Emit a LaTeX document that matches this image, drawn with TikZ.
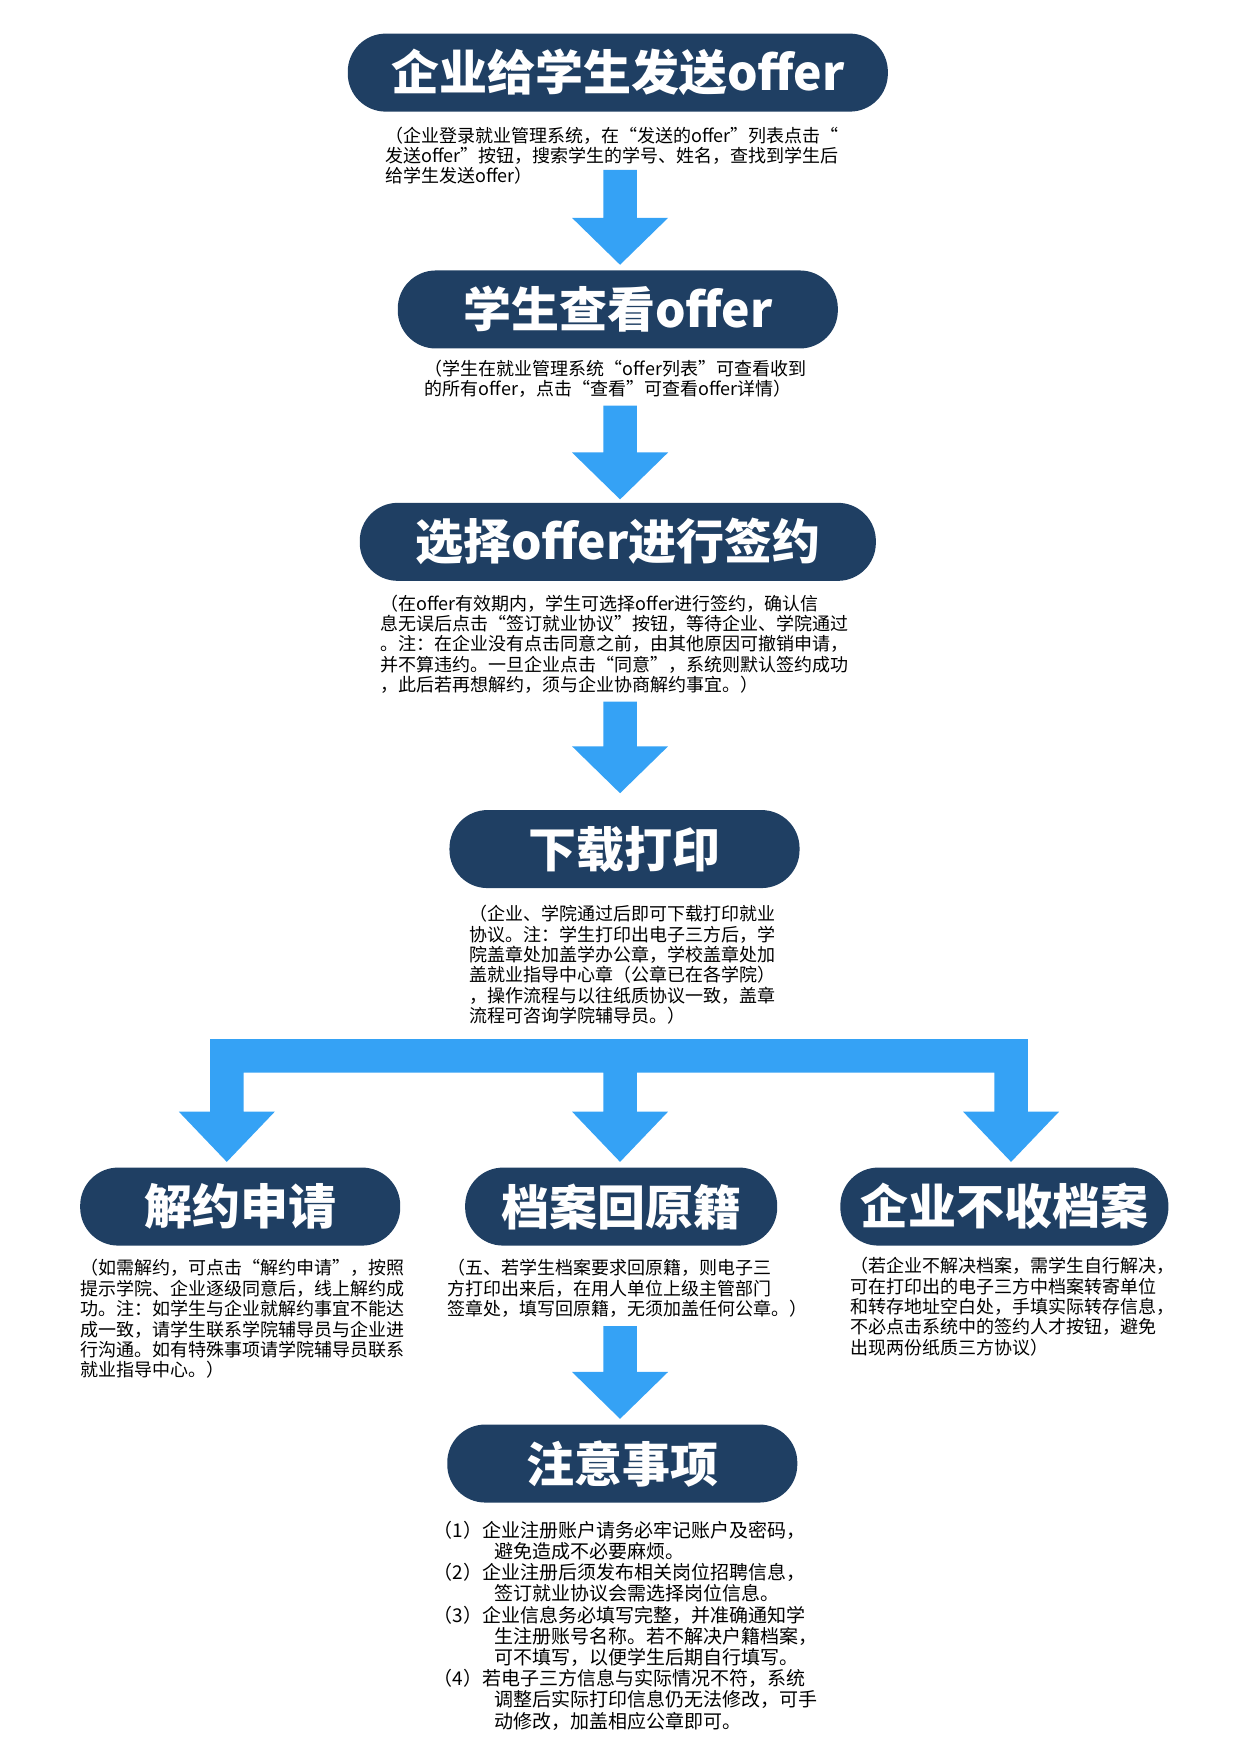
\documentclass[tikz,border=0pt]{standalone}
\usepackage{fontspec}
\setmainfont{Noto Sans CJK SC}
\newfontfamily\cjk{Noto Sans CJK SC}
\usetikzlibrary{positioning}
\definecolor{navy}{HTML}{1F3F63}
\definecolor{skyblue}{HTML}{35A2F5}
\tikzset{
  stage/.style={fill=navy,text=white,rounded corners=19pt,minimum height=39pt,
    font=\cjk\fontsize{24}{26}\selectfont\bfseries,inner xsep=10pt},
  note/.style={align=left,font=\cjk\fontsize{9}{10.2}\selectfont,inner sep=0pt},
}
% block arrow: x centre, top, bottom
\newcommand\blockarrow[3]{\fill[skyblue] (#1-15,#2) -- (#1+15,#2) -- (#1+15,#3-42) -- (#1+43,#3-42)
  -- (#1,#3) -- (#1-43,#3-42) -- (#1-15,#3-42) -- cycle;}
\begin{document}
\begin{tikzpicture}[x=0.5585pt,y=-0.5585pt]
\useasboundingbox (0,0) rectangle (1110,1570);

\node[stage,minimum width=270pt] (send) at (553,65) {企业给学生发送offer};
\node[note,anchor=north] (sendtxt) at (548,113) {（企业登录就业管理系统，在“发送的offer”列表点击“\\发送offer”按钮，搜索学生的学号、姓名，查找到学生后\\给学生发送offer）};
\blockarrow{555}{152}{237}

\node[stage,minimum width=220pt] (view) at (553,277) {学生查看offer};
\node[note,anchor=north] (viewtxt) at (551,322) {（学生在就业管理系统“offer列表”可查看收到\\的所有offer，点击“查看”可查看offer详情）};
\blockarrow{555}{363}{447}

\node[stage,minimum width=258pt] (sign) at (553,485) {选择offer进行签约};
\node[note,anchor=north] (signtxt) at (550,532) {（在offer有效期内，学生可选择offer进行签约，确认信\\息无误后点击“签订就业协议”按钮，等待企业、学院通过\\。注：在企业没有点击同意之前，由其他原因可撤销申请，\\并不算违约。一旦企业点击“同意”，系统则默认签约成功\\，此后若再想解约，须与企业协商解约事宜。）};
\blockarrow{555}{628}{710}

\node[stage,minimum width=175pt] (print) at (559,760) {下载打印};
\node[note,anchor=north] (printtxt) at (557,810) {（企业、学院通过后即可下载打印就业\\协议。注：学生打印出电子三方后，学\\院盖章处加盖学办公章，学校盖章处加\\盖就业指导中心章（公章已在各学院）\\，操作流程与以往纸质协议一致，盖章\\流程可咨询学院辅导员。）};

% bracket to three branches
\fill[skyblue] (188,930) -- (920,930) -- (920,995) -- (948,995) -- (905,1040) -- (862,995)
  -- (890,995) -- (890,960) -- (570,960) -- (570,995) -- (598,995) -- (555,1040) -- (512,995)
  -- (540,995) -- (540,960) -- (218,960) -- (218,995) -- (246,995) -- (203,1040) -- (160,995)
  -- (188,995) -- cycle;

\node[stage,minimum width=160pt] (cancel) at (215,1080) {解约申请};
\node[note,anchor=north] (canceltxt) at (217,1127) {（如需解约，可点击“解约申请”，按照\\提示学院、企业逐级同意后，线上解约成\\功。注：如学生与企业就解约事宜不能达\\成一致，请学生联系学院辅导员与企业进\\行沟通。如有特殊事项请学院辅导员联系\\就业指导中心。）};

\node[stage,minimum width=156pt] (back) at (556,1080) {档案回原籍};
\node[note,anchor=north] (backtxt) at (562,1127) {（五、若学生档案要求回原籍，则电子三\\方打印出来后，在用人单位上级主管部门\\签章处，填写回原籍，无须加盖任何公章。）};

\node[stage,minimum width=155pt] (norec) at (899,1080) {企业不收档案};
\node[note,anchor=north] (norectxt) at (906,1125) {（若企业不解决档案，需学生自行解决，\\可在打印出的电子三方中档案转寄单位\\和转存地址空白处，手填实际转存信息，\\不必点击系统中的签约人才按钮，避免\\出现两份纸质三方协议）};
\blockarrow{555}{1187}{1270}

\node[stage,minimum width=175pt] (notice) at (557,1310) {注意事项};
\node[note,anchor=north,font=\cjk\fontsize{9.5}{10.6}\selectfont] (noticetxt) at (560,1361) {（1）企业注册账户请务必牢记账户及密码，\\\hspace*{3.2em}避免造成不必要麻烦。\\（2）企业注册后须发布相关岗位招聘信息，\\\hspace*{3.2em}签订就业协议会需选择岗位信息。\\（3）企业信息务必填写完整，并准确通知学\\\hspace*{3.2em}生注册账号名称。若不解决户籍档案，\\\hspace*{3.2em}可不填写，以便学生后期自行填写。\\（4）若电子三方信息与实际情况不符，系统\\\hspace*{3.2em}调整后实际打印信息仍无法修改，可手\\\hspace*{3.2em}动修改，加盖相应公章即可。};
\end{tikzpicture}
\end{document}
